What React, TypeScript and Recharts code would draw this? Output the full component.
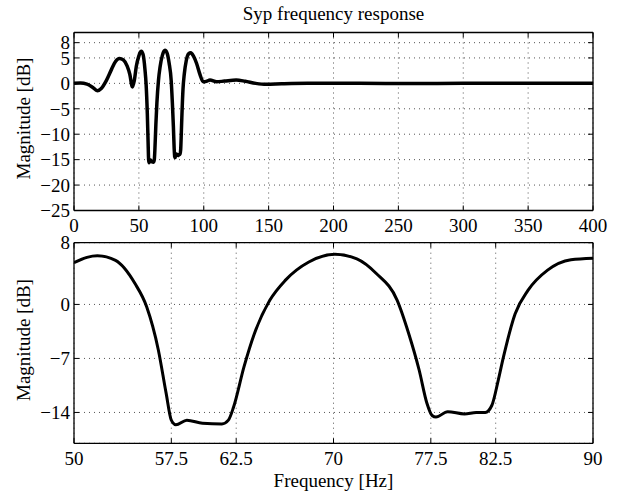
import React from 'react';
import { LineChart, Line, XAxis, YAxis, CartesianGrid } from 'recharts';

const title = 'Syp frequency response';
const yLabel = 'Magnitude [dB]';
const xLabel = 'Frequency [Hz]';

const topXTicks = [0, 50, 100, 150, 200, 250, 300, 350, 400];
const topYTicks = [-25, -20, -15, -10, -5, 0, 5, 8];
const bottomXTicks = [50, 57.5, 62.5, 70, 77.5, 82.5, 90];
const bottomYTicks = [-14, -7, 0, 8];

// 0 - 50 Hz
const lowFreq = [0, 5, 10, 14, 18, 21, 25, 29, 32, 35, 38, 41, 43, 45, 46.5, 48];
const lowMag = [0, 0.05, -0.15, -0.7, -1.45, -1.0, 0.6, 2.8, 4.3, 4.9, 4.6, 3.4, 1.8, -0.7, 0.6, 3.3];

// 50 - 90 Hz (detail)
const notchFreq = [50, 51, 51.8, 53.2, 54.7, 55.6, 56.5, 57.1, 57.5, 57.85, 58.7, 59.9, 61.4, 61.9, 62.3, 63.1, 63.9, 65.1, 66.3, 68.1, 70.1, 71.8, 73.3, 74.9, 75.8, 76.6, 77.2, 77.6, 77.9, 78.8, 80.1, 81, 81.7, 82.2, 82.7, 83.1, 84, 85, 86.5, 88.3, 90];
const notchMag = [5.4, 6.1, 6.3, 5.7, 2.7, -0.3, -5.9, -11.5, -15.0, -15.6, -15.0, -15.4, -15.5, -15.0, -13.3, -8.1, -3.8, 0.56, 3.15, 5.5, 6.5, 5.9, 4.0, 0.56, -3.8, -8.5, -12.8, -14.4, -14.6, -13.9, -14.2, -14.0, -14.0, -13.1, -9.8, -6.8, -1.2, 1.85, 4.45, 5.8, 6.0];

// 90 - 400 Hz
const highFreq = [92, 94.5, 97, 99.6, 102, 104.8, 109.9, 116, 125, 132, 140, 148, 160, 180, 220, 260, 300, 350, 400];
const highMag = [5.4, 3.9, 1.8, 0.3, 0.4, 0.65, 0.3, 0.45, 0.65, 0.4, 0.0, -0.2, -0.1, 0, 0, -0.05, 0, 0, 0];

const topData = [...lowFreq, ...notchFreq, ...highFreq].map((f, i) => ({
  f,
  m: [...lowMag, ...notchMag, ...highMag][i],
}));
const bottomData = notchFreq.map((f, i) => ({ f, m: notchMag[i] }));

const FONT = '"Liberation Serif", "Times New Roman", serif';
const FS = 19;
const W = 621;
const H = 492;
const LEFT = 74;
const RIGHT = 593;
const XH = 30;
const YW = 60;

const fmt = (v: number) => (v < 0 ? '\u2212' + Math.abs(v) : String(v));
const blank = () => '';

type PanelProps = {
  data: { f: number; m: number }[];
  xDomain: [number, number];
  yDomain: [number, number];
  xTicks: number[];
  yTicks: number[];
  top: number;
  bottom: number;
  lineWidth: number;
};

function Panel({ data, xDomain, yDomain, xTicks, yTicks, top, bottom, lineWidth }: PanelProps) {
  const tickStyle = { fill: '#000', fontSize: FS, fontFamily: FONT };
  const border = { stroke: '#000', strokeWidth: 1.3 };
  return (
    <div style={{ position: 'absolute', left: 0, top: 0 }}>
      <LineChart
        width={W}
        height={H}
        data={data}
        margin={{ top, bottom: H - bottom - XH, left: LEFT - YW, right: W - RIGHT }}
      >
        <CartesianGrid stroke="#555" strokeDasharray="1 4" strokeWidth={1} />
        <XAxis
          dataKey="f"
          type="number"
          domain={xDomain}
          ticks={xTicks}
          interval={0}
          allowDataOverflow
          height={XH}
          tickSize={0}
          tickMargin={8}
          tickLine={false}
          axisLine={border}
          tick={tickStyle}
          tickFormatter={fmt}
        />
        <XAxis
          xAxisId="xi"
          dataKey="f"
          type="number"
          domain={xDomain}
          ticks={xTicks}
          interval={0}
          allowDataOverflow
          mirror
          tickSize={5}
          axisLine={false}
          tickLine={{ stroke: '#000' }}
          tickFormatter={blank}
        />
        <XAxis
          xAxisId="xt"
          orientation="top"
          dataKey="f"
          type="number"
          domain={xDomain}
          ticks={xTicks}
          interval={0}
          allowDataOverflow
          mirror
          tickSize={5}
          axisLine={border}
          tickLine={{ stroke: '#000' }}
          tickFormatter={blank}
        />
        <YAxis
          type="number"
          domain={yDomain}
          ticks={yTicks}
          interval={0}
          allowDataOverflow
          width={YW}
          tickSize={0}
          tickMargin={4}
          tickLine={false}
          axisLine={border}
          tick={tickStyle}
          tickFormatter={fmt}
        />
        <YAxis
          yAxisId="yi"
          type="number"
          domain={yDomain}
          ticks={yTicks}
          interval={0}
          allowDataOverflow
          mirror
          tickSize={5}
          axisLine={false}
          tickLine={{ stroke: '#000' }}
          tickFormatter={blank}
        />
        <YAxis
          yAxisId="yr"
          orientation="right"
          type="number"
          domain={yDomain}
          ticks={yTicks}
          interval={0}
          allowDataOverflow
          mirror
          tickSize={5}
          axisLine={border}
          tickLine={{ stroke: '#000' }}
          tickFormatter={blank}
        />
        <Line
          type="monotone"
          dataKey="m"
          stroke="#000"
          strokeWidth={lineWidth}
          dot={false}
          activeDot={false}
          isAnimationActive={false}
        />
      </LineChart>
    </div>
  );
}

const TOP1 = 32.5;
const BOT1 = 210.5;
const TOP2 = 242.7;
const BOT2 = 443.3;

export default function App() {
  const cx = (LEFT + RIGHT) / 2;
  return (
    <div style={{ position: 'absolute', left: 0, top: 0, width: W, height: H, background: '#fff' }}>
      <Panel
        data={topData}
        xDomain={[0, 400]}
        yDomain={[-25, 10]}
        xTicks={topXTicks}
        yTicks={topYTicks}
        top={TOP1}
        bottom={BOT1}
        lineWidth={3.5}
      />
      <Panel
        data={bottomData}
        xDomain={[50, 90]}
        yDomain={[-18, 8]}
        xTicks={bottomXTicks}
        yTicks={bottomYTicks}
        top={TOP2}
        bottom={BOT2}
        lineWidth={3}
      />
      <svg
        width={W}
        height={H}
        style={{ position: 'absolute', left: 0, top: 0, pointerEvents: 'none' }}
      >
        <text x={cx} y={13.5} textAnchor="middle" dominantBaseline="central" fontFamily={FONT} fontSize={FS} fill="#000">
          {title}
        </text>
        <text
          x={23}
          y={(TOP1 + BOT1) / 2 - 3}
          textAnchor="middle"
          dominantBaseline="central"
          fontFamily={FONT}
          fontSize={FS}
          fill="#000"
          transform={`rotate(-90 23 ${(TOP1 + BOT1) / 2 - 3})`}
        >
          {yLabel}
        </text>
        <text
          x={23}
          y={(TOP2 + BOT2) / 2 - 3}
          textAnchor="middle"
          dominantBaseline="central"
          fontFamily={FONT}
          fontSize={FS}
          fill="#000"
          transform={`rotate(-90 23 ${(TOP2 + BOT2) / 2 - 3})`}
        >
          {yLabel}
        </text>
        <text x={cx} y={480} textAnchor="middle" dominantBaseline="central" fontFamily={FONT} fontSize={FS} fill="#000">
          {xLabel}
        </text>
      </svg>
    </div>
  );
}
